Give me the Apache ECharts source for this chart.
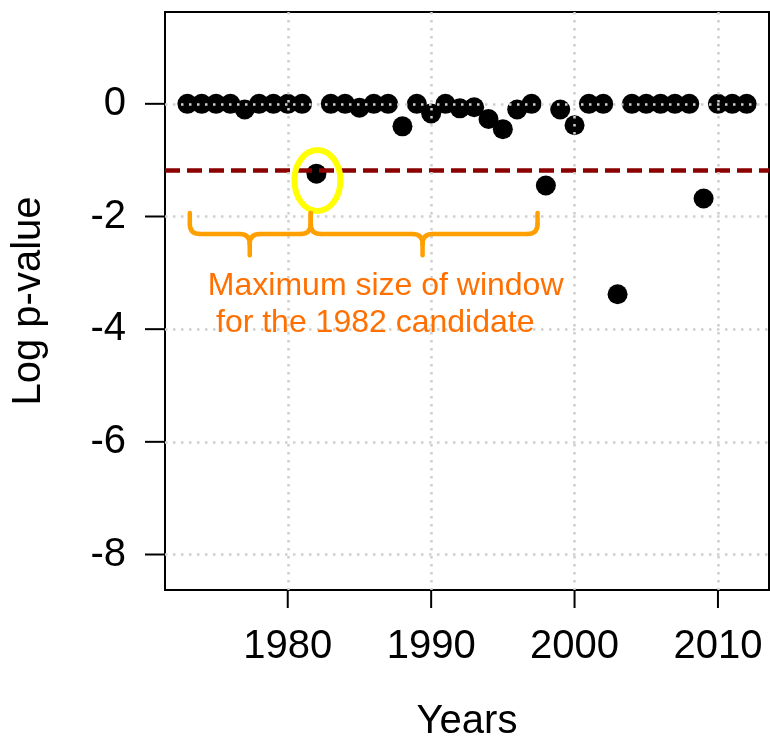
<!DOCTYPE html>
<html>
<head>
<meta charset="utf-8">
<script src="https://cdn.jsdelivr.net/npm/echarts@6/dist/echarts.min.js"></script>
<style>
  html, body { margin: 0; padding: 0; background: #fff; }
  #main { width: 770px; height: 740px; }
</style>
</head>
<body>
<div id="main"></div>
<script>
// years and log p-values
var years = [1973, 1974, 1975, 1976, 1977, 1978, 1979, 1980, 1981, 1982,
  1983, 1984, 1985, 1986, 1987, 1988, 1989, 1990, 1991, 1992,
  1993, 1994, 1995, 1996, 1997, 1998, 1999, 2000, 2001, 2002,
  2003, 2004, 2005, 2006, 2007, 2008, 2009, 2010, 2011, 2012];
var logP = [0, 0, 0, 0, -0.1, 0, 0, 0, 0, -1.24,
  0, 0, -0.07, 0, 0, -0.4, 0, -0.17, 0, -0.08,
  -0.06, -0.27, -0.45, -0.1, 0, -1.45, -0.1, -0.38, 0, 0,
  -3.38, 0, 0, 0, 0, 0, -1.68, 0, 0, 0];
var threshold = -1.18;

var xTicks = [1980, 1990, 2000, 2010];
var yTicks = [-8, -6, -4, -2, 0];
var xRange = [1971.44, 2013.56];
var yRange = [-8.63, 1.63];

// annotation anchors (data units)
var candidate = [1982.07, -1.36];
var braceEnds = [1973.17, 1981.6, 1997.42];
var braceTips = [1977.35, 1989.4];
var braceLevels = [-1.94, -2.31, -2.69]; // top, middle, tip
var noteLines = ['Maximum size of window', 'for the 1982 candidate'];
var noteAnchors = [[1986.83, -3.23], [1986.1, -3.89]];

var font = '"Liberation Sans", Arial, Helvetica, sans-serif';
var points = years.map(function (y, i) { return [y, logP[i]]; });

var chart = echarts.init(document.getElementById('main'), null, { renderer: 'canvas' });

var gridStyle = { color: '#CFCFCF', width: 2.5, type: [2.5, 5.5] };

var option = {
  animation: false,
  backgroundColor: '#fff',
  grid: {
    left: 165, top: 12, width: 604, height: 578,
    outerBoundsMode: 'none',
    containLabel: false,
    show: true, borderColor: '#000', borderWidth: 2
  },
  xAxis: {
    type: 'value',
    min: xRange[0], max: xRange[1],
    zlevel: 1,
    axisLine: { show: false, onZero: false },
    axisTick: { show: false, customValues: xTicks },
    axisLabel: {
      customValues: xTicks, fontSize: 40, color: '#000', fontFamily: font, margin: 37,
      formatter: function (v) { return String(v); }
    },
    splitLine: { show: true, lineStyle: gridStyle },
    name: 'Years',
    nameLocation: 'middle',
    nameGap: 112,
    nameTextStyle: { fontSize: 40, color: '#000', fontFamily: font }
  },
  yAxis: {
    type: 'value',
    min: yRange[0], max: yRange[1],
    zlevel: 1,
    axisLine: { show: false, onZero: false },
    axisTick: { show: false, customValues: yTicks },
    axisLabel: {
      customValues: yTicks, fontSize: 40, color: '#000', fontFamily: font, margin: 39,
      formatter: function (v) { return String(v); }
    },
    splitLine: { show: true, lineStyle: gridStyle },
    name: 'Log p-value',
    nameLocation: 'middle',
    nameGap: 116,
    nameTextStyle: { fontSize: 40, color: '#000', fontFamily: font }
  },
  series: [{
    type: 'scatter',
    z: 2,
    symbol: 'circle',
    symbolSize: 20,
    itemStyle: { color: '#000', opacity: 1 },
    data: points,
    markLine: {
      silent: true,
      symbol: ['none', 'none'],
      label: { show: false },
      lineStyle: { color: '#8B0000', width: 4.5, type: [15, 7] },
      emphasis: { disabled: true },
      data: [{ yAxis: threshold }]
    }
  }]
};
chart.setOption(option);

function px(x, y) {
  return chart.convertToPixel({ gridIndex: 0 }, [x, y]);
}

var graphics = [];
var tickStyle = { stroke: '#000', lineWidth: 2 };

// axis ticks, outside the box
xTicks.forEach(function (t) {
  var p = px(t, yRange[0]);
  graphics.push({ type: 'line', zlevel: 1, silent: true,
    shape: { x1: p[0], y1: p[1], x2: p[0], y2: p[1] + 18 }, style: tickStyle });
});
yTicks.forEach(function (t) {
  var p = px(xRange[0], t);
  graphics.push({ type: 'line', zlevel: 1, silent: true,
    shape: { x1: p[0] - 20, y1: p[1], x2: p[0], y2: p[1] }, style: tickStyle });
});

var braceStyle = { stroke: '#FFA000', lineWidth: 4.5, fill: null, lineCap: 'round' };

// curly brace from x0 to x1 with tip at xt
function brace(x0, x1, xt) {
  var a = px(x0, braceLevels[0]), b = px(x1, braceLevels[0]);
  var t = px(xt, braceLevels[2]);
  var yTop = a[1], yMid = px(x0, braceLevels[1])[1], yTip = t[1];
  var r = 10;
  function line(x1_, y1_, x2_, y2_) {
    return { type: 'line', zlevel: 2, silent: true, shape: { x1: x1_, y1: y1_, x2: x2_, y2: y2_ }, style: braceStyle };
  }
  function curve(x1_, y1_, cx, cy, x2_, y2_) {
    return { type: 'bezierCurve', zlevel: 2, silent: true,
      shape: { x1: x1_, y1: y1_, cpx1: cx, cpy1: cy, x2: x2_, y2: y2_ }, style: braceStyle };
  }
  var L = a[0], R = b[0], T = t[0];
  return [
    line(L, yTop, L, yMid - r),
    curve(L, yMid - r, L, yMid, L + r, yMid),
    line(L + r, yMid, T - r, yMid),
    curve(T - r, yMid, T, yMid, T, yMid + r),
    line(T, yMid + r, T, yTip),
    curve(T, yMid + r, T, yMid, T + r, yMid),
    line(T + r, yMid, R - r, yMid),
    curve(R - r, yMid, R, yMid, R, yMid - r),
    line(R, yMid - r, R, yTop)
  ];
}

var c = px(candidate[0], candidate[1]);
graphics.push({
  type: 'ellipse', zlevel: 2, silent: true,
  shape: { cx: c[0], cy: c[1], rx: 23, ry: 30.5 },
  style: { stroke: '#FFFF00', lineWidth: 6, fill: null }
});
graphics = graphics.concat(brace(braceEnds[0], braceEnds[1], braceTips[0]));
graphics = graphics.concat(brace(braceEnds[1], braceEnds[2], braceTips[1]));
noteLines.forEach(function (txt, i) {
  var p = px(noteAnchors[i][0], noteAnchors[i][1]);
  graphics.push({
    type: 'text', zlevel: 2, silent: true,
    x: p[0], y: p[1],
    style: { text: txt, fill: '#FF7000', font: '32px ' + font, align: 'center', verticalAlign: 'middle' }
  });
});
chart.setOption({ graphic: graphics });
</script>
</body>
</html>
